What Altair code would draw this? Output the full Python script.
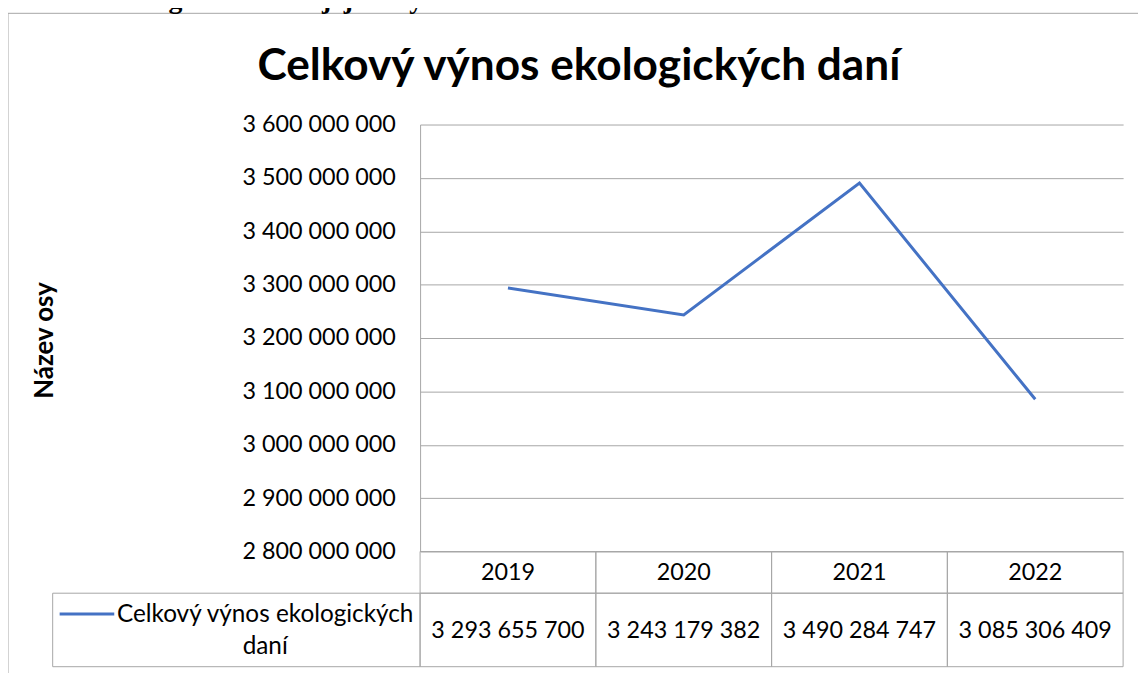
import altair as alt
import pandas as pd

# ---- data ----
years = ["2019", "2020", "2021", "2022"]
values = [3293655700, 3243179382, 3490284747, 3085306409]
y_ticks = [2800000000, 2900000000, 3000000000, 3100000000, 3200000000,
           3300000000, 3400000000, 3500000000, 3600000000]
series_name = "Celkový výnos ekologických daní"
legend_text = "Celkový výnos ekologických\ndaní"
chart_title = "Celkový výnos ekologických daní"
y_title = "Název osy"
caption = "Graf 15 Ekologické daně a jejich výnos v letech 2019 – 2022"


def fmt(v):
    return f"{v:,}".replace(",", " ")


df = pd.DataFrame({"year": years, "value": values,
                   "label": [fmt(v) for v in values]})
leg_df = pd.DataFrame({"name": [series_name], "txt": [legend_text]})

# ---- styling ----
W, H = 708, 430
GRID = "#a6a6a6"
BLUE = "#4472C4"
FONT = "Lato"
FS = 23.5

xscale = alt.Scale(type="band", domain=years, paddingInner=0, paddingOuter=0)
x_band = alt.X("year:O", scale=xscale, axis=None)
x_mid = alt.X("year:O", scale=xscale, axis=None, bandPosition=0.5)

y_enc = alt.Y(
    "value:Q",
    scale=alt.Scale(domain=[y_ticks[0], y_ticks[-1]], nice=False, zero=False),
    axis=alt.Axis(
        values=y_ticks, grid=True, gridColor=GRID, gridWidth=1,
        domain=True, domainColor=GRID, ticks=False,
        labelFont=FONT, labelFontSize=FS, labelColor="#000000",
        labelPadding=25, labelOverlap=False,
        labelExpr="replace(format(datum.value, ','), regexp(',', 'g'), ' ')",
        title=y_title, titleFont=FONT, titleFontSize=26, titleFontWeight="bold",
        titleColor="#000000", titleAngle=-90, titleX=-378, titleY=217,
        titleAlign="center", titleBaseline="middle",
    ),
)

base = alt.Chart(df)

frame = alt.Chart(leg_df).mark_rect(fillOpacity=0, stroke=GRID, strokeWidth=1).encode(
    x=alt.value(-415), x2=alt.value(760), y=alt.value(-112), y2=alt.value(580)
)

cap = alt.Chart(leg_df).mark_text(
    font="Liberation Serif", fontWeight="bold", fontSize=28, align="left",
    baseline="alphabetic", color="#000000"
).encode(x=alt.value(-423), y=alt.value(-117), text=alt.value(caption))

title = alt.Chart(leg_df).mark_text(
    font=FONT, fontWeight="bold", fontSize=44.5, align="center",
    baseline="alphabetic", color="#000000"
).encode(x=alt.value(160), y=alt.value(-45), text=alt.value(chart_title))

line = base.mark_line(color=BLUE, strokeWidth=3).encode(x=x_mid, y=y_enc)

cells_year = base.mark_rect(fillOpacity=0, stroke=GRID, strokeWidth=1).encode(
    x=x_band, y=alt.value(H), y2=alt.value(H + 42)
)
cells_val = base.mark_rect(fillOpacity=0, stroke=GRID, strokeWidth=1).encode(
    x=x_band, y=alt.value(H + 42), y2=alt.value(H + 116)
)
year_text = base.mark_text(font=FONT, fontSize=FS, color="#000000").encode(
    x=x_mid, y=alt.value(H + 22), text="year:N"
)
val_text = base.mark_text(font=FONT, fontSize=FS, color="#000000").encode(
    x=x_mid, y=alt.value(H + 80), text="label:N"
)

leg_cell = alt.Chart(leg_df).mark_rect(fillOpacity=0, stroke=GRID, strokeWidth=1).encode(
    x=alt.value(-370), x2=alt.value(0), y=alt.value(H + 42), y2=alt.value(H + 116)
)
leg_swatch = alt.Chart(leg_df).mark_rule(color=BLUE, strokeWidth=3).encode(
    x=alt.value(-363), x2=alt.value(-308), y=alt.value(H + 63)
)
leg_label = alt.Chart(leg_df).mark_text(
    font=FONT, fontSize=24.5, color="#000000", align="center", baseline="alphabetic",
    lineBreak="\n", lineHeight=32
).encode(x=alt.value(-156), y=alt.value(H + 71), text="txt:N")

chart = alt.layer(
    frame, cap, title, cells_year, cells_val, line, year_text, val_text,
    leg_cell, leg_swatch, leg_label
).properties(
    width=W, height=H,
    padding={"left": 415, "top": 115, "right": 15, "bottom": 120},
    autosize=alt.AutoSizeParams(type="none"),
).configure_view(stroke=None)

chart.save("out.html", embed_options={"renderer": "svg", "actions": False})
